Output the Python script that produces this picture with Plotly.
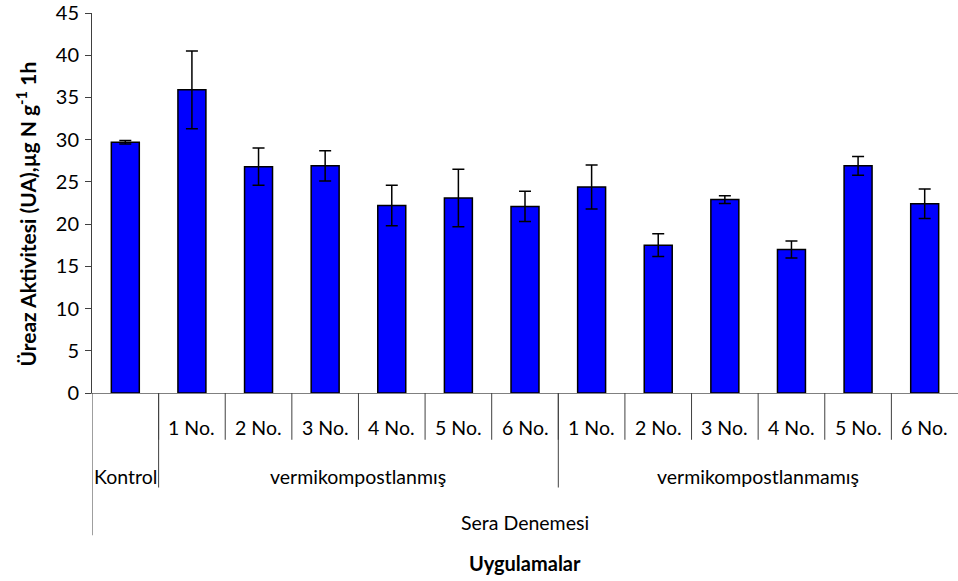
import plotly.graph_objects as go

# Urease activity per treatment (greenhouse trial)
treatments = ["", "1 No.", "2 No.", "3 No.", "4 No.", "5 No.", "6 No.",
              "1 No.", "2 No.", "3 No.", "4 No.", "5 No.", "6 No."]
groups = ["Kontrol", "vermikompostlanmış", "vermikompostlanmamış"]
group_sizes = [1, 6, 6]
experiment = "Sera Denemesi"
urease = [29.7, 35.9, 26.8, 26.9, 22.2, 23.1, 22.1,
          24.4, 17.5, 22.9, 17.0, 26.9, 22.4]
urease_err = [0.2, 4.6, 2.2, 1.8, 2.4, 3.4, 1.8,
              2.6, 1.35, 0.45, 1.0, 1.1, 1.75]
y_ticks = [0, 5, 10, 15, 20, 25, 30, 35, 40, 45]

FONT = "Lato"
LINE = "#404040"
LABEL_SIZE = 19.5
positions = list(range(len(urease)))

fig = go.Figure(go.Bar(
    x=positions, y=urease, width=0.42,
    marker=dict(color="#0000FF", line=dict(color="black", width=1.5)),
    error_y=dict(type="data", array=urease_err, color="black",
                 thickness=1.5, width=6),
))

shapes = []
annotations = []

def y_paper(px):
    # convert a pixel row below the axis to paper units
    return (393 - px) / 382

def label(x, y, text, size=LABEL_SIZE, xref="x"):
    return dict(x=x, y=y, xref=xref, yref="paper", text=text, showarrow=False,
                xanchor="center", yanchor="middle",
                font=dict(size=size, family=FONT, color="black"))

# lowest-level labels and dividers between treatments
for i, lab in enumerate(treatments):
    if lab:
        annotations.append(label(positions[i], y_paper(428), lab))
for i in range(1, len(treatments)):
    shapes.append(dict(type="line", xref="x", yref="paper", x0=i - 0.5, x1=i - 0.5,
                       y0=0, y1=y_paper(440), line=dict(color=LINE, width=1)))

# group labels and dividers between groups
start = 0
for g, n in zip(groups, group_sizes):
    centre = (positions[start] + positions[start + n - 1]) / 2
    annotations.append(label(centre, y_paper(477), g))
    if start > 0:
        shapes.append(dict(type="line", xref="x", yref="paper", x0=start - 0.5, x1=start - 0.5,
                           y0=0, y1=y_paper(488), line=dict(color=LINE, width=1)))
    start += n

# experiment label spanning all treatments, then the axis title
mid = (positions[0] + positions[-1]) / 2
annotations.append(label(mid, y_paper(523), experiment))
annotations.append(label(mid, y_paper(564), "<b>Uygulamalar</b>", size=20))

# y axis line continued down through the category rows
shapes.append(dict(type="line", xref="x", yref="paper", x0=-0.5, x1=-0.5,
                   y0=0, y1=y_paper(536), line=dict(color=LINE, width=1)))

# y axis title
annotations.append(dict(x=-0.076, y=0.47, xref="paper", yref="paper", textangle=-90,
                        xanchor="center", yanchor="middle",
                        text="<b>Üreaz Aktivitesi (UA),µg N g<sup>-1</sup> 1h</b>",
                        showarrow=False, font=dict(size=21, family=FONT, color="black")))

fig.update_layout(
    width=958, height=581,
    margin=dict(l=92, r=0, t=11, b=188),
    paper_bgcolor="white", plot_bgcolor="white",
    showlegend=False,
    shapes=shapes, annotations=annotations,
    xaxis=dict(range=[-0.5, len(urease) - 0.5], showticklabels=False, showgrid=False,
               zeroline=False, showline=True, linecolor="#808080", linewidth=1, ticks=""),
    yaxis=dict(range=[0, 45], tickmode="array", tickvals=y_ticks,
               ticktext=[str(v) for v in y_ticks], showgrid=False, zeroline=False,
               showline=True, linecolor=LINE, linewidth=1, ticks="outside", ticklen=6,
               tickcolor=LINE, ticklabeloverflow="allow", ticklabelstandoff=2,
               tickfont=dict(size=20, family=FONT, color="black")),
)

fig.write_html("out.html")
